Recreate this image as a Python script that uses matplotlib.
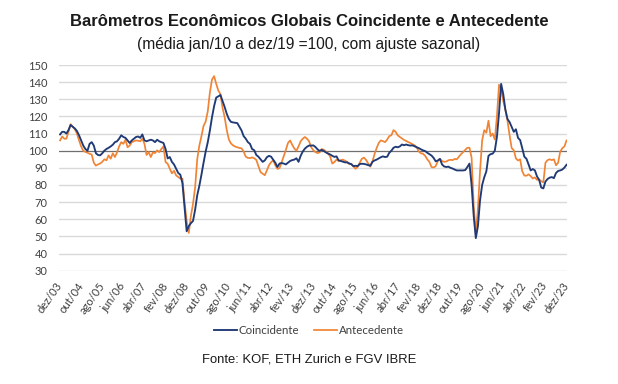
import matplotlib
matplotlib.use("Agg")
import matplotlib.pyplot as plt
import numpy as np

# Monthly data, dez/03 .. dez/23 (241 months)
coincidente = [
    109.5, 111, 111, 110, 112, 115, 114, 113, 111.5, 109,
    106, 103, 101, 100, 104, 105, 103, 98.5, 97.5, 97.3,
    98.5, 100, 101, 101.7, 102.5, 103.5, 105, 105.5, 107, 109,
    108, 107.5, 106, 104.5, 106, 107, 108, 108.3, 107.5, 109.5,
    106, 105.5, 106, 106.4, 106, 105, 106.4, 105.5, 105, 104.5,
    101, 95.5, 96.3, 93.5, 92, 89.5, 87, 86, 81, 67, 53,
    56, 57.7, 59, 65.5, 74, 79.5, 86, 93, 99.5, 105,
    111.8, 119.5, 126, 131, 131.7, 132.5, 129, 125.5, 121.5, 118.5,
    116.8, 116.5, 116.3, 116.1, 114, 111.8, 108.5, 107, 105, 104,
    101, 100.3, 97.5, 96.5, 95, 93.5, 94.3, 96.2, 97, 96.5,
    94.8, 93, 90.5, 92.5, 92.8, 92.5, 92, 93, 94, 94.5,
    94.8, 95.6, 93.5, 97, 99.5, 101.2, 102.3, 103,
    103, 103.1, 102.2, 100.8, 99.9, 100.5, 99.8, 99, 98.3, 97.8,
    97, 96.4, 96.7, 94.3, 94, 93.6, 93.2, 93.2, 92.6, 92.1,
    91, 91.2, 91, 92.2, 92.4, 92.3, 92, 91.6, 91.2, 93.5,
    94.3, 94.8, 95.5, 96.2, 96.7, 96.3, 96.5, 98.8, 100, 101.7,
    102.3, 102, 102.5, 103.6, 103.2, 103.6, 103.2, 103, 103.1, 102.6,
    102, 101.5, 100.8, 100.2, 99.8, 98.8, 98, 97.2, 95.8,
    93.8, 94.3, 95.2, 92, 90.8, 90.5, 90.7, 90, 89.6, 89,
    88.5, 88.5, 88.5, 88.5, 88.7, 90.5, 92.5, 80, 62, 49,
    56, 71, 80, 84.5, 88, 97, 98, 98.3, 100, 108,
    122, 139, 133, 124, 118.5, 116.7, 113.8, 111, 112.5, 107.5,
    106.2, 101.5, 96.5, 95.3, 92, 88.5, 89.3, 88.5, 85, 83,
    78.5, 78, 82, 83.5, 84.3, 84.6, 84, 87, 88.2, 88.5,
    89, 90.2, 91.8,
]

antecedente = [
    106, 108.3, 107, 107, 111, 115.5, 114, 112.5, 110, 106,
    102.5, 100, 99.3, 98.8, 98.2, 97.8, 93, 91.3, 92, 92.5,
    93.5, 95, 94.4, 97.3, 95.3, 98.5, 96.3, 99, 102.5, 105,
    104, 106.4, 102, 103, 105, 105.5, 106, 105.8, 105.5, 107,
    104, 97.5, 99.2, 96.3, 99, 98.6, 100.2, 99.2, 101, 102.5,
    93.4, 92.4, 89.5, 86.8, 88.3, 85.6, 84.7, 83.7, 83.7,
    70, 59, 52, 62, 69, 78.5, 95, 103, 108.5, 114.5,
    117, 123, 134, 141.5, 143.5, 139, 135.1, 133, 125, 119.5,
    112, 106.5, 104.2, 103.1, 102.4, 102, 101.6, 101.4, 99.5, 96.5,
    95.8, 95.7, 96.1, 95.6, 94.6, 91, 87.5, 86.6, 85.7, 88.5,
    91.5, 93.3, 94.4, 91.5, 89.4, 89.8, 93.3, 96.8, 100.5, 104.5,
    106, 103.5, 101.3, 100, 102.5, 105.5, 107, 108, 107, 105.5,
    102, 100.3, 99.2, 98.6, 99, 101, 100.5, 99.5, 98.5, 96.5,
    92.5, 93.4, 94.8, 94, 94.5, 94.8, 94.2, 93.5, 92.2, 92.4,
    90.8, 89.5, 90.5, 93, 95.3, 96, 94.6, 92.6, 90.7, 93.5,
    98, 101.5, 104.5, 106, 105.6, 105, 106.5, 108.5, 109, 112,
    111, 109, 108, 107.2, 106.3, 105.7, 105, 104.5, 103.8, 103.1,
    102, 99.5, 98.5, 98.2, 97, 95, 93.5,
    90.5, 90.2, 91, 94, 95.3, 94, 93.5, 93.7, 94.4, 94.7,
    94.5, 95.2, 95, 96.5, 98, 99.2, 100.5, 101.7, 101.7, 96,
    68, 52, 66, 88, 106, 112, 110.5, 117.5, 108.5, 110,
    106.5, 120, 138.5, 136, 129, 124, 117.5, 109, 101.5, 100.3,
    95.5, 94.3, 95, 88, 85.5, 85.4, 86.2, 85.2, 83.8, 84.4,
    83, 83.3, 82.2, 81.5, 93, 94.5, 95, 94.5, 95, 91.5,
    93, 99.5, 101.5, 102.5, 106,
]

tick_labels = ["dez/03", "out/04", "ago/05", "jun/06", "abr/07", "fev/08",
               "dez/08", "out/09", "ago/10", "jun/11", "abr/12", "fev/13",
               "dez/13", "out/14", "ago/15", "jun/16", "abr/17", "fev/18",
               "dez/18", "out/19", "ago/20", "jun/21", "abr/22", "fev/23",
               "dez/23"]
tick_step = 10
y_ticks = list(range(30, 151, 10))

W, H = 618, 384
fig = plt.figure(figsize=(W / 100, H / 100), dpi=100)
ax = fig.add_axes([59.3 / W, 1 - 270.7 / H, (567.3 - 59.3) / W, (270.7 - 65) / H])

x = np.arange(len(coincidente))
x2 = np.arange(len(antecedente))

for yv in y_ticks:
    if yv == 100:
        continue
    ax.axhline(yv, color="#d9d9d9", lw=1.0, zorder=0)
ax.axhline(100, color="#6f6f6f", lw=0.9, zorder=1)

ax.plot(x, coincidente, color="#1f3a75", lw=1.35, label="Coincidente", zorder=3)
ax.plot(x2, antecedente, color="#f08434", lw=1.25, label="Antecedente", zorder=2)

ax.set_xlim(-0.35, len(coincidente) - 1 + 0.35)
ax.set_ylim(30, 150)
ax.set_yticks(y_ticks)
ax.set_yticklabels([str(v) for v in y_ticks], fontsize=8, color="#404040",
                   family=["Lato", "DejaVu Sans"])
ax.tick_params(axis="y", length=0, pad=8.5)

ax.set_xticks(np.arange(0, len(coincidente), tick_step))
ax.set_xticklabels(tick_labels, fontsize=8, color="#404040",
                   family=["Lato", "DejaVu Sans"], rotation=55,
                   ha="right", va="center", rotation_mode="anchor")
ax.tick_params(axis="x", length=0, pad=9)

for s in ax.spines.values():
    s.set_visible(False)

fig.text(0.5, 1 - 22 / H, "Barômetros Econômicos Globais Coincidente e Antecedente",
         ha="center", va="center", fontsize=12, fontweight="bold",
         family=["Liberation Sans", "DejaVu Sans"], color="#1a1a1a")
fig.text(0.5, 1 - 44.5 / H, "(média jan/10 a dez/19 =100, com ajuste sazonal)",
         ha="center", va="center", fontsize=11.2,
         family=["Liberation Sans", "DejaVu Sans"], color="#1a1a1a")

leg = fig.legend(loc="center", bbox_to_anchor=(0.5, 1 - 330.7 / H), ncol=2,
                 frameon=False, handlelength=2.0,
                 handletextpad=0.15, columnspacing=1.3,
                 prop={"family": ["Lato", "DejaVu Sans"], "size": 8.3})
for t in leg.get_texts():
    t.set_color("#404040")

fig.text(0.5, 1 - 360 / H, "Fonte: KOF, ETH Zurich e FGV IBRE",
         ha="center", va="center", fontsize=9.4,
         family=["Liberation Sans", "DejaVu Sans"], color="#1a1a1a")

fig.savefig("out.png", dpi=100)
